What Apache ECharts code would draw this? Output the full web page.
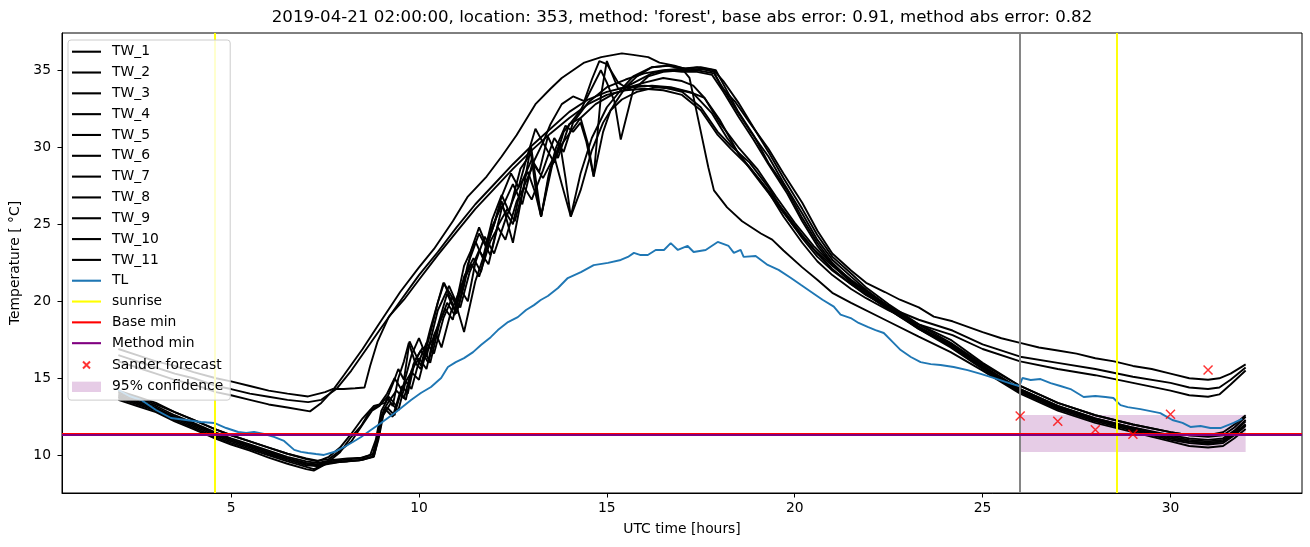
<!DOCTYPE html>
<html>
<head>
<meta charset="utf-8">
<script src="https://cdn.jsdelivr.net/npm/echarts@6/dist/echarts.min.js"></script>
<style>
  html, body { margin: 0; padding: 0; background: #fff; }
  #chart { width: 1310px; height: 547px; }
</style>
</head>
<body>
<div id="chart"></div>
<script>
// readings: [hour, temperature]
const tw1 = [[2,16.1],[2.5,15.7],[3,15.3],[3.5,14.9],[4,14.6],[4.6,14.1],[5,13.9],[5.5,13.6],[6,13.3],[6.5,13.1],[7.1,12.85],[7.4,13.4],[7.7,14.2],[8,15.2],[8.5,16.9],[8.9,18.4],[9.5,20.6],[10,22.2],[10.4,23.4],[10.9,25.2],[11.3,26.8],[11.8,28.1],[12.2,29.4],[12.6,30.8],[13.1,32.8],[13.5,33.8],[13.8,34.5],[14.4,35.5],[14.85,35.85],[15.4,36.1],[15.7,36.0],[16.1,35.85],[16.4,35.5],[16.8,35.3],[17.2,35.0],[17.5,35.1],[17.85,34.9],[18.05,33.9],[18.4,33.0],[18.8,31.6],[19.3,29.9],[19.7,28.3],[20.2,26.4],[20.6,24.6],[21,23.1],[21.5,22.0],[21.9,21.2],[22.4,20.6],[22.8,20.1],[23.3,19.6],[23.7,19.0],[24.2,18.7],[25,18.0],[25.5,17.6],[26,17.3],[26.5,17.0],[27,16.8],[27.5,16.6],[28,16.3],[28.5,16.1],[29,15.8],[29.5,15.6],[30,15.3],[30.5,15.0],[31,14.9],[31.3,15.0],[31.6,15.3],[32,15.9]];
const tw2 = [[2,16.5],[2.5,16.1],[3,15.7],[3.5,15.3],[4,15.0],[4.6,14.5],[5,14.3],[5.5,14.0],[6,13.8],[6.5,13.6],[7.05,13.45],[7.4,13.6],[7.8,14.3],[8.2,15.5],[8.6,16.9],[9,18.3],[9.5,20.0],[10,21.7],[10.5,23.2],[11,24.8],[11.5,26.3],[12,27.6],[12.5,28.9],[13,30.1],[13.5,31.2],[14,32.3],[14.5,33.1],[15,33.6],[15.5,33.9],[16,34.0],[16.5,33.9],[17,33.6],[17.5,32.6],[17.95,31.0],[18.3,30.1],[18.8,29.0],[19.3,27.4],[19.7,25.8],[20.2,24.1],[20.6,22.9],[21,22.0],[21.5,21.1],[21.9,20.4],[22.5,19.6],[23.3,18.8],[24.2,18.1],[25,17.2],[26,16.4],[27,16.0],[28,15.6],[29,15.1],[30,14.7],[30.5,14.4],[31,14.3],[31.3,14.4],[31.6,14.9],[32,15.7]];
const tw3 = [[2,16.9],[2.5,16.5],[3,16.1],[3.5,15.8],[4,15.4],[4.6,15.0],[5,14.8],[5.5,14.5],[6,14.2],[6.5,14.0],[7.05,13.82],[7.5,14.1],[7.7,14.3],[8,14.3],[8.3,14.35],[8.55,14.4],[8.7,15.8],[8.9,17.4],[9.2,19.0],[9.6,20.1],[10,21.4],[10.5,23.0],[11,24.5],[11.5,26.0],[12,27.3],[12.5,28.6],[13,29.8],[13.5,30.9],[14,31.9],[14.5,32.8],[15,33.4],[15.5,33.7],[16,33.8],[16.5,33.7],[17,33.4],[17.5,32.4],[17.95,30.8],[18.3,29.9],[18.8,28.7],[19.3,27.1],[19.7,25.5],[20.2,23.8],[20.6,22.6],[21,21.7],[21.5,20.8],[21.9,20.2],[22.5,19.4],[23.3,18.5],[24.2,17.8],[25,16.9],[26,16.1],[27,15.6],[28,15.2],[29,14.7],[30,14.2],[30.5,13.9],[31,13.8],[31.3,13.95],[31.6,14.6],[32,15.5]];
const tw4 = [[2,14.1],[2.5,13.7],[3,13.3],[3.5,12.8],[4,12.3],[4.57,11.7],[5,11.3],[5.5,10.9],[6,10.5],[6.5,10.1],[7,9.75],[7.3,9.6],[7.6,9.9],[7.9,10.5],[8.2,11.4],[8.5,12.4],[8.8,13.2],[9.1,13.4],[9.3,14.6],[9.45,15.6],[9.6,14.9],[9.75,17.4],[9.9,16.6],[10.05,15.8],[10.3,18.2],[10.65,21.2],[10.85,20.4],[11,19.7],[11.2,18.0],[11.5,21.3],[11.8,23.5],[12.2,26.5],[12.5,23.8],[12.8,27.6],[12.98,30.1],[13.25,25.5],[13.5,28.6],[13.8,30.2],[14.3,31.9],[14.7,32.8],[15.2,33.5],[15.7,33.9],[16.2,34.0],[16.7,33.9],[17.2,33.6],[17.6,33.2],[18,31.8],[18.5,29.6],[19,28.0],[19.5,26.4],[20,24.8],[20.5,23.4],[21,22.3],[21.5,21.3],[22,20.5],[22.8,19.2],[23.5,18.2],[24.15,17.3],[25,15.9],[26,14.5],[27,13.4],[28,12.6],[29,12.0],[30,11.5],[30.5,11.3],[31,11.2],[31.4,11.3],[31.7,11.8],[32,12.5]];
const tw5 = [[2,13.8],[2.5,13.4],[3,13.0],[3.5,12.5],[4,12.0],[4.57,11.4],[5,11.0],[5.5,10.6],[6,10.2],[6.5,9.8],[7,9.45],[7.3,9.3],[7.6,9.6],[7.9,10.2],[8.2,11.2],[8.46,11.9],[8.7,12.9],[8.95,13.3],[9.15,14.0],[9.35,15.0],[9.55,14.2],[9.8,16.5],[10,17.6],[10.2,16.4],[10.5,19.4],[10.8,21.0],[11.05,19.6],[11.3,22.4],[11.6,24.4],[11.9,23.0],[12.2,26.0],[12.5,27.6],[12.75,26.3],[13,28.8],[13.3,30.3],[13.6,29.0],[13.85,31.0],[14.3,32.4],[14.84,35.0],[15,34.2],[15.2,33.0],[15.37,30.5],[15.7,33.7],[16.1,34.6],[16.5,34.9],[17,35.0],[17.4,35.0],[17.85,34.8],[18.4,32.6],[18.8,31.1],[19.3,29.4],[19.7,27.7],[20.2,25.7],[20.6,24.0],[21,22.7],[21.5,21.6],[21.9,20.75],[22.5,19.65],[23.3,18.35],[24.15,17.2],[25,15.8],[26,14.3],[27,13.2],[28,12.4],[29,11.8],[30,11.2],[30.5,11.0],[31,10.9],[31.4,11.0],[31.7,11.5],[32,12.2]];
const tw6 = [[2,13.9],[2.5,13.5],[3,13.1],[3.5,12.5],[4,12.0],[4.57,11.4],[5,11.0],[5.5,10.6],[6,10.2],[6.5,9.8],[7,9.5],[7.3,9.4],[7.6,9.6],[8,9.7],[8.4,9.8],[8.7,10.0],[8.85,11.0],[9,12.9],[9.2,13.8],[9.4,13.2],[9.6,14.6],[9.8,15.4],[10,14.9],[10.2,16.8],[10.45,17.9],[10.6,17.0],[10.85,19.3],[11.1,20.8],[11.3,20.0],[11.5,22.5],[11.75,24.2],[12,23.1],[12.3,25.3],[12.6,27.2],[12.9,28.4],[13.1,27.0],[13.25,25.5],[13.55,28.9],[13.75,30.3],[13.9,28.0],[14.04,25.5],[14.3,28.3],[14.6,30.6],[15,32.6],[15.4,33.8],[15.7,34.6],[16.2,35.2],[16.7,35.3],[17.1,35.1],[17.5,35.2],[17.9,35.0],[18.1,34.1],[18.5,32.3],[18.9,30.8],[19.3,29.0],[19.8,27.2],[20.2,25.4],[20.6,23.8],[21,22.5],[21.5,21.3],[22,20.4],[22.6,19.4],[23.3,18.2],[24.15,17.0],[25,15.6],[26,14.1],[27,13.0],[28,12.2],[29,11.6],[30,11.0],[30.5,10.8],[31,10.7],[31.4,10.8],[31.7,11.3],[32,11.9]];
const tw7 = [[2,13.7],[2.5,13.3],[3,12.9],[3.5,12.3],[4,11.8],[4.57,11.2],[5,10.8],[5.5,10.4],[6,10.0],[6.5,9.6],[7,9.25],[7.2,9.1],[7.6,9.5],[8,9.6],[8.4,9.7],[8.75,9.9],[8.9,11.2],[9,12.6],[9.15,13.1],[9.35,12.6],[9.55,14.5],[9.7,14.0],[9.9,16.2],[10.1,17.0],[10.3,16.0],[10.55,18.6],[10.75,19.9],[10.95,19.1],[11.2,21.6],[11.45,22.8],[11.65,21.9],[11.9,24.6],[12.2,26.2],[12.5,25.0],[12.75,27.8],[13,29.2],[13.2,28.4],[13.43,30.7],[13.7,29.3],[14,31.5],[14.3,31.9],[14.5,30.2],[14.65,28.1],[14.84,33.3],[15,35.6],[15.1,35.0],[15.3,33.8],[15.6,33.9],[16,34.2],[16.5,34.5],[17,34.3],[17.3,34.0],[17.6,33.2],[18,31.6],[18.5,30.0],[19,28.6],[19.5,26.8],[20,25.1],[20.5,23.6],[21,22.4],[21.5,21.4],[22,20.5],[22.8,19.1],[23.5,18.0],[24.15,17.1],[25,15.7],[26,14.2],[27,13.1],[28,12.3],[29,11.7],[30,11.1],[30.5,10.9],[31,10.8],[31.4,10.9],[31.7,11.4],[32,12.0]];
const tw8 = [[2,13.6],[2.5,13.2],[3,12.8],[3.5,12.2],[4,11.7],[4.57,11.1],[5,10.7],[5.5,10.3],[6,9.85],[6.5,9.45],[7,9.1],[7.2,9.0],[7.5,9.4],[8,9.6],[8.4,9.65],[8.8,9.9],[8.95,11.5],[9.05,12.9],[9.2,13.5],[9.4,14.2],[9.6,13.7],[9.8,15.5],[10,16.3],[10.2,15.6],[10.4,17.8],[10.7,19.5],[10.9,18.8],[11.1,20.9],[11.4,22.4],[11.6,21.6],[11.9,23.9],[12.1,24.8],[12.3,24.0],[12.6,26.5],[12.8,27.4],[13,26.6],[13.3,28.5],[13.6,30.6],[13.85,29.7],[14.1,31.6],[14.5,32.9],[15,33.9],[15.5,34.4],[16,34.8],[16.5,35.0],[17,35.1],[17.2,34.5],[17.45,31.6],[17.7,28.7],[17.85,27.2],[18.2,26.1],[18.6,25.2],[19.1,24.4],[19.4,24.0],[19.7,23.3],[20.2,22.2],[20.6,21.4],[21,20.55],[21.5,19.9],[22.4,18.8],[23.3,17.7],[24.15,16.7],[25,15.5],[26,14.0],[27,12.9],[28,12.1],[29,11.5],[30,10.9],[30.5,10.6],[31,10.5],[31.4,10.6],[31.7,11.1],[32,11.7]];
const tw9 = [[2,14.0],[2.5,13.6],[3,13.2],[3.5,12.6],[4,12.1],[4.57,11.5],[5,11.1],[5.5,10.7],[6,10.3],[6.5,9.9],[7,9.6],[7.3,9.5],[7.7,9.7],[8.1,9.8],[8.5,9.85],[8.8,10.1],[8.95,12.0],[9.1,13.0],[9.3,12.5],[9.5,14.1],[9.65,13.6],[9.85,15.9],[10.05,16.8],[10.25,16.0],[10.5,18.4],[10.75,20.5],[10.95,19.4],[11.2,22.3],[11.5,23.9],[11.7,22.8],[11.95,25.3],[12.2,26.9],[12.4,25.8],[12.7,28.6],[12.98,29.6],[13.1,27.4],[13.25,25.5],[13.45,28.2],[13.65,30.0],[13.9,31.4],[14.1,31.0],[14.3,31.6],[14.45,30.4],[14.65,28.1],[14.9,31.0],[15.1,32.4],[15.4,33.1],[15.8,33.6],[16.3,33.9],[16.8,33.8],[17.3,33.5],[17.8,32.2],[18.2,30.6],[18.7,29.0],[19.2,27.5],[19.7,25.9],[20.2,24.3],[20.6,23.1],[21,22.1],[21.5,21.1],[22,20.3],[22.8,19.0],[23.5,18.0],[24.15,17.2],[25,15.8],[26,14.3],[27,13.2],[28,12.4],[29,11.8],[30,11.3],[30.5,11.1],[31,11.0],[31.4,11.1],[31.7,11.6],[32,12.3]];
const tw10 = [[2,13.8],[2.5,13.4],[3,13.0],[3.5,12.4],[4,11.9],[4.57,11.3],[5,10.9],[5.5,10.5],[6,10.1],[6.5,9.7],[7,9.35],[7.3,9.3],[7.7,9.55],[8.1,9.6],[8.5,9.7],[8.8,9.95],[8.92,11.0],[9.05,12.6],[9.25,13.4],[9.45,12.9],[9.65,14.8],[9.8,14.3],[10,16.1],[10.2,17.3],[10.4,16.6],[10.65,18.9],[10.9,20.3],[11.1,19.6],[11.35,21.9],[11.6,23.3],[11.85,22.4],[12.1,24.9],[12.35,26.0],[12.55,25.2],[12.8,27.5],[13.05,28.9],[13.3,28.0],[13.6,29.4],[13.8,27.6],[14.04,25.5],[14.3,27.2],[14.6,29.8],[14.9,31.6],[15.2,32.8],[15.5,33.9],[15.8,34.6],[16.2,35.2],[16.6,35.3],[17,35.1],[17.4,35.2],[17.85,35.0],[18.1,34.3],[18.5,32.9],[18.9,31.3],[19.3,29.7],[19.7,28.0],[20.2,26.0],[20.6,24.3],[21,22.9],[21.5,21.8],[21.9,20.9],[22.5,19.8],[23.3,18.5],[24.15,17.5],[25,16.0],[26,14.5],[27,13.4],[28,12.6],[29,12.0],[30,11.5],[30.5,11.3],[31,11.3],[31.4,11.5],[31.7,12.0],[32,12.6]];
const tw11 = [[2,14.2],[2.5,13.8],[3,13.4],[3.5,12.8],[4,12.3],[4.57,11.7],[5,11.3],[5.5,10.9],[6,10.5],[6.5,10.1],[7,9.8],[7.3,9.65],[7.6,9.75],[7.9,10.3],[8.2,10.9],[8.5,12.0],[8.75,12.9],[8.95,13.2],[9.15,13.8],[9.3,13.2],[9.45,15.0],[9.6,16.1],[9.73,17.3],[9.9,16.0],[10.05,15.6],[10.3,17.9],[10.5,19.9],[10.67,21.2],[10.85,20.1],[11,19.2],[11.2,21.0],[11.4,23.4],[11.6,24.8],[11.8,23.6],[12,25.0],[12.2,26.8],[12.45,28.3],[12.65,27.4],[12.9,29.6],[13.1,31.2],[13.3,30.3],[13.5,31.5],[13.8,32.8],[14.1,33.3],[14.4,33.0],[14.6,34.4],[14.8,35.6],[15,35.4],[15.3,34.2],[15.5,33.9],[15.8,34.3],[16.2,34.8],[16.6,35.0],[17,34.9],[17.4,34.9],[17.8,34.7],[18.1,33.6],[18.5,32.0],[18.9,30.5],[19.3,28.9],[19.8,27.0],[20.2,25.2],[20.6,23.6],[21,22.4],[21.5,21.2],[22,20.3],[22.6,19.3],[23.3,18.2],[24.15,17.1],[25,15.7],[26,14.2],[27,13.1],[28,12.3],[29,11.7],[30,11.1],[30.5,10.9],[31,10.8],[31.4,10.9],[31.7,11.4],[32,12.0]];

const tl = [[2,14.24],[2.29,13.85],[2.61,13.59],[3,12.94],[3.4,12.42],[3.8,12.29],[4.2,12.16],[4.55,12.1],[4.87,11.77],[5.19,11.51],[5.4,11.45],[5.61,11.51],[5.88,11.38],[6.14,11.19],[6.41,10.93],[6.68,10.35],[6.86,10.22],[7.05,10.15],[7.26,10.08],[7.47,10.02],[7.74,10.21],[8.01,10.54],[8.24,10.86],[8.46,11.19],[8.72,11.64],[8.99,12.1],[9.39,12.81],[9.79,13.59],[10.05,14.04],[10.32,14.43],[10.59,15.02],[10.77,15.73],[10.98,16.05],[11.2,16.31],[11.44,16.7],[11.65,17.16],[11.91,17.67],[12.1,18.13],[12.37,18.65],[12.63,18.97],[12.85,19.43],[13.06,19.75],[13.24,20.08],[13.43,20.34],[13.7,20.86],[13.96,21.51],[14.31,21.89],[14.65,22.35],[15.03,22.49],[15.37,22.68],[15.56,22.88],[15.72,23.14],[15.9,23.0],[16.09,23.0],[16.3,23.33],[16.52,23.33],[16.7,23.78],[16.89,23.33],[17.15,23.59],[17.31,23.2],[17.63,23.33],[17.95,23.85],[18.24,23.59],[18.38,23.14],[18.56,23.33],[18.64,22.88],[18.96,22.94],[19.28,22.36],[19.57,22.04],[19.89,21.53],[20.16,21.07],[20.43,20.62],[20.74,20.1],[21.04,19.65],[21.22,19.13],[21.49,18.91],[21.7,18.59],[21.94,18.33],[22.15,18.13],[22.37,17.94],[22.61,17.35],[22.82,16.83],[23.09,16.38],[23.35,16.05],[23.62,15.92],[23.88,15.86],[24.23,15.73],[24.6,15.53],[24.95,15.28],[25.29,15.02],[25.61,14.76],[25.88,14.56],[25.98,14.5],[26.06,15.02],[26.28,14.89],[26.54,14.95],[26.81,14.69],[27.07,14.5],[27.34,14.3],[27.69,13.78],[28,13.85],[28.27,13.78],[28.48,13.72],[28.67,13.26],[28.86,13.13],[29.2,13.0],[29.73,12.74],[30.05,12.29],[30.32,12.1],[30.53,11.84],[30.8,11.9],[31.06,11.77],[31.33,11.77],[31.68,12.1],[31.91,12.36]];

const sunriseHours = [4.57, 28.57];
const forecastStartHour = 26;
const baseMin = 11.42;
const methodMin = 11.33;
const sanderHours = [26, 27, 28, 29, 30, 31];
const sanderTemps = [12.55, 12.21, 11.66, 11.36, 12.66, 15.54];
const confLow = 10.22;
const confHigh = 12.62;
const confStart = 26;
const confEnd = 32;
const xTicks = [5, 10, 15, 20, 25, 30];
const yTicks = [10, 15, 20, 25, 30, 35];

const FONT = 'DejaVu Sans';
const LINE_ICON = 'path://M0,0h29v2.1h-29z';
const twList = [tw1, tw2, tw3, tw4, tw5, tw6, tw7, tw8, tw9, tw10, tw11];

let series = [];
twList.forEach(function (d, i) {
  series.push({
    name: 'TW_' + (i + 1),
    type: 'line',
    data: d,
    symbol: 'none',
    lineStyle: { color: '#000', width: 1.9 },
    itemStyle: { color: '#000' },
    z: 3
  });
});
series.push({
  name: 'TL', type: 'line', data: tl, symbol: 'none',
  lineStyle: { color: '#1f77b4', width: 1.9 }, itemStyle: { color: '#1f77b4' }, z: 4
});
// vertical line at forecast start (not in legend)
series.push({
  name: 'start', type: 'line', data: [], symbol: 'none',
  itemStyle: { color: '#808080' }, z: 5,
  markLine: {
    silent: true, symbol: ['none', 'none'], label: { show: false },
    lineStyle: { color: '#808080', width: 1.9, type: 'solid' },
    data: [{ xAxis: forecastStartHour }]
  }
});
series.push({
  name: 'sunrise', type: 'line', data: [], symbol: 'none', z: 5,
  lineStyle: { color: '#ffff00', width: 1.9 }, itemStyle: { color: '#ffff00' },
  markLine: {
    silent: true, symbol: ['none', 'none'], label: { show: false },
    lineStyle: { color: '#ffff00', width: 1.9, type: 'solid' },
    data: sunriseHours.map(function (h) { return { xAxis: h }; })
  }
});
series.push({
  name: 'Base min', type: 'line', data: [], symbol: 'none', z: 6,
  lineStyle: { color: '#ff0000', width: 1.9 }, itemStyle: { color: '#ff0000' },
  markLine: {
    silent: true, symbol: ['none', 'none'], label: { show: false },
    lineStyle: { color: '#ff0000', width: 1.9, type: 'solid' },
    data: [{ yAxis: baseMin }]
  }
});
series.push({
  name: 'Method min', type: 'line', data: [], symbol: 'none', z: 7,
  lineStyle: { color: '#800080', width: 1.9 }, itemStyle: { color: '#800080' },
  markLine: {
    silent: true, symbol: ['none', 'none'], label: { show: false },
    lineStyle: { color: '#800080', width: 1.9, type: 'solid' },
    data: [{ yAxis: methodMin }]
  }
});
series.push({
  name: 'Sander forecast', type: 'scatter',
  data: sanderHours.map(function (h, i) { return [h, sanderTemps[i]]; }),
  symbol: 'path://M0,0L10,10M10,0L0,10', symbolSize: 9,
  itemStyle: { color: '#ff0000', borderColor: '#ff0000', borderWidth: 1.5 },
  z: 8
});
series.push({
  name: '95% confidence', type: 'line', data: [], symbol: 'none',
  itemStyle: { color: 'rgba(128,0,128,0.2)' },
  markArea: {
    silent: true,
    itemStyle: { color: 'rgba(128,0,128,0.2)' },
    data: [[{ xAxis: confStart, yAxis: confLow }, { xAxis: confEnd, yAxis: confHigh }]]
  }
});

let legendNames = twList.map(function (d, i) { return 'TW_' + (i + 1); })
  .concat(['TL', 'sunrise', 'Base min', 'Method min']);
let legendData = legendNames.map(function (n) { return { name: n, icon: LINE_ICON }; });
legendData.push({ name: 'Sander forecast', icon: 'path://M-4,-4M0,0L8,8M8,0L0,8M12,12' });
legendData.push({ name: '95% confidence', icon: 'path://M0,0h28v10h-28z' });

let myChart = echarts.init(document.getElementById('chart'), null, { renderer: 'canvas' });
let option = {
  animation: false,
  backgroundColor: '#fff',
  title: {
    text: "2019-04-21 02:00:00, location: 353, method: 'forest', base abs error: 0.91, method abs error: 0.82",
    left: 682, top: 9, textAlign: 'center', padding: 0,
    textStyle: { fontFamily: FONT, fontSize: 16.67, fontWeight: 'normal', color: '#000' }
  },
  grid: {
    left: 62, right: 8, top: 33, bottom: 54,
    show: true, borderColor: '#000', borderWidth: 1, backgroundColor: 'transparent'
  },
  legend: {
    orient: 'vertical', left: 68, top: 40,
    padding: [4.7, 7, 6.3, 4],
    itemWidth: 29, itemHeight: 14, itemGap: 6.82,
    backgroundColor: 'rgba(255,255,255,0.8)',
    borderColor: '#cccccc', borderWidth: 1, borderRadius: 3,
    textStyle: { fontFamily: FONT, fontSize: 13.89, color: '#000', lineHeight: 14, padding: [0, 0, 0, 6] },
    data: legendData,
    z: 10
  },
  xAxis: {
    type: 'value', min: 0.5, max: 33.5,
    name: 'UTC time [hours]', nameLocation: 'middle', nameGap: 29,
    nameTextStyle: { fontFamily: FONT, fontSize: 13.89, color: '#000' },
    axisLine: { lineStyle: { color: '#000', width: 1 } },
    axisTick: { inside: false, length: 4.5, lineStyle: { color: '#000' }, customValues: xTicks },
    axisLabel: { fontFamily: FONT, fontSize: 13.89, color: '#000', margin: 8, customValues: xTicks },
    splitLine: { show: false }
  },
  yAxis: {
    type: 'value', min: 7.55, max: 37.42,
    name: 'Temperature [ °C]', nameLocation: 'middle', nameGap: 35,
    nameTextStyle: { fontFamily: FONT, fontSize: 13.89, color: '#000' },
    axisLine: { show: true, lineStyle: { color: '#000', width: 1 } },
    axisTick: { show: true, inside: false, length: 4.5, lineStyle: { color: '#000' }, customValues: yTicks },
    axisLabel: { fontFamily: FONT, fontSize: 13.89, color: '#000', margin: 11, customValues: yTicks },
    splitLine: { show: false }
  },
  series: series
};
myChart.setOption(option);
</script>
</body>
</html>
